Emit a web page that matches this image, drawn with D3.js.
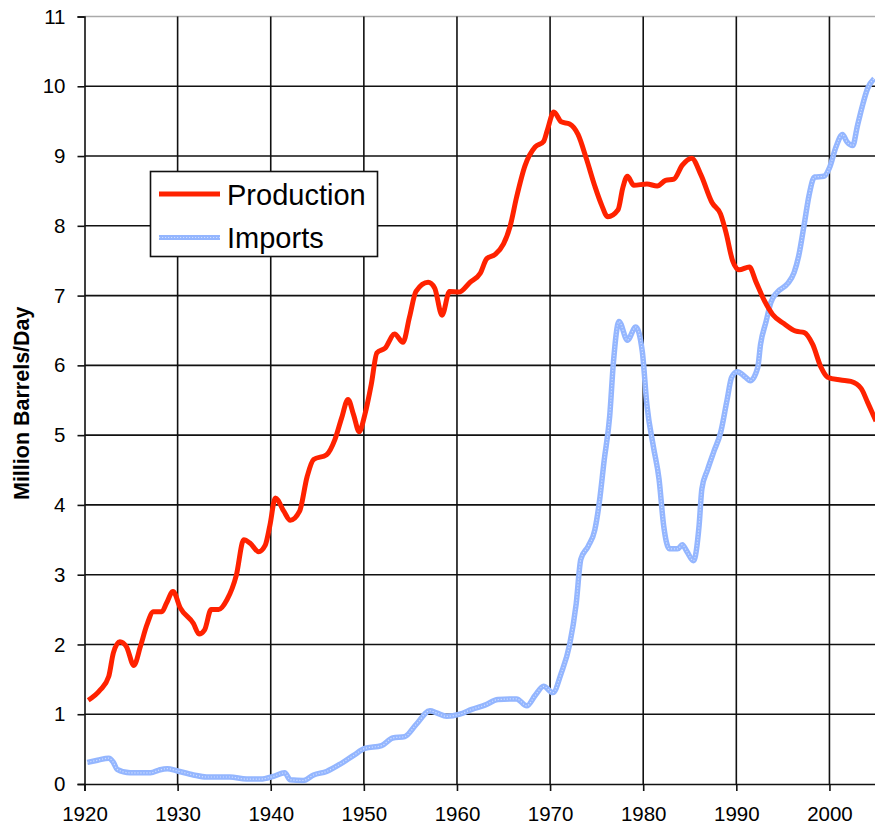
<!DOCTYPE html>
<html>
<head>
<meta charset="utf-8">
<script src="https://cdn.jsdelivr.net/npm/d3@7"></script>
<style>
  html, body { margin: 0; padding: 0; background: #fff; }
  svg { display: block; }
  text { font-family: "Liberation Sans", Arial, sans-serif; fill: #000; }
</style>
</head>
<body>
<div id="chart"></div>
<script>
// ---- Data ----
const prodYears = [1920.4,1921.7,1922.6,1923.1,1923.8,1924.5,1925.3,1926.0,1926.7,1927.4,1928.3,1928.8,1929.5,1930.3,1931.7,1932.3,1932.9,1933.6,1934.4,1935.3,1936.3,1937.1,1937.8,1938.7,1939.4,1939.9,1940.5,1941.4,1942.1,1943.1,1943.9,1944.6,1946.0,1946.9,1947.6,1948.3,1948.9,1949.5,1950.1,1950.8,1951.4,1952.3,1953.3,1954.2,1954.9,1955.6,1956.9,1957.6,1958.4,1959.2,1960.2,1961.4,1962.5,1963.2,1964.1,1965.0,1965.7,1966.4,1967.3,1968.4,1969.3,1969.7,1970.4,1971.2,1972.1,1973.0,1973.9,1974.8,1975.5,1976.2,1977.3,1977.8,1978.3,1979.0,1980.4,1981.5,1982.4,1983.3,1984.2,1985.2,1986.2,1987.4,1988.3,1988.9,1989.6,1990.3,1991.4,1992.1,1993.0,1993.9,1995.1,1996.4,1997.3,1998.2,1999.1,1999.8,2001.2,2002.3,2003.4,2004.1,2005.0];
const prodValues = [1.20,1.35,1.54,1.88,2.04,1.97,1.70,1.97,2.28,2.47,2.47,2.59,2.76,2.52,2.30,2.15,2.21,2.50,2.50,2.64,2.99,3.50,3.45,3.33,3.42,3.70,4.10,3.91,3.78,3.91,4.40,4.65,4.72,4.94,5.24,5.51,5.29,5.05,5.29,5.73,6.18,6.25,6.45,6.33,6.69,7.06,7.19,7.11,6.72,7.06,7.05,7.19,7.32,7.53,7.59,7.74,7.99,8.41,8.86,9.13,9.21,9.37,9.63,9.49,9.46,9.31,8.96,8.57,8.31,8.13,8.23,8.54,8.71,8.58,8.60,8.57,8.65,8.67,8.87,8.97,8.73,8.33,8.17,7.90,7.50,7.37,7.41,7.20,6.93,6.73,6.60,6.49,6.47,6.30,5.97,5.83,5.79,5.77,5.67,5.47,5.20];

const impYears = [1920.3,1921.4,1922.6,1923.1,1923.5,1924.9,1927.1,1928.0,1928.9,1929.9,1931.7,1933.1,1935.6,1937.4,1938.9,1940.3,1941.5,1942.1,1943.5,1944.6,1946.0,1947.4,1948.9,1950.1,1951.9,1953.1,1954.4,1955.6,1957.1,1957.8,1958.9,1960.3,1961.6,1963.0,1964.4,1966.4,1967.5,1968.4,1969.3,1970.3,1971.2,1972.1,1972.8,1973.3,1974.1,1974.8,1975.3,1975.8,1976.4,1976.8,1977.4,1978.3,1979.2,1979.9,1980.4,1981.1,1981.7,1982.2,1982.8,1983.7,1984.2,1984.7,1985.4,1986.0,1986.3,1986.9,1987.6,1988.3,1989.0,1989.5,1990.1,1991.0,1991.5,1992.3,1992.6,1993.2,1993.7,1994.4,1995.5,1996.2,1996.7,1997.3,1997.8,1998.4,1999.4,2000.0,2000.7,2001.4,2001.9,2002.5,2003.0,2003.5,2004.1,2004.8];
const impValues = [0.31,0.34,0.37,0.31,0.21,0.16,0.16,0.20,0.22,0.19,0.13,0.10,0.10,0.07,0.07,0.11,0.16,0.06,0.05,0.13,0.18,0.28,0.41,0.51,0.55,0.66,0.68,0.85,1.05,1.02,0.97,1.00,1.07,1.13,1.21,1.22,1.12,1.27,1.40,1.31,1.59,2.00,2.58,3.22,3.41,3.64,4.05,4.63,5.27,6.04,6.63,6.36,6.55,6.20,5.43,4.83,4.37,3.70,3.37,3.37,3.43,3.33,3.20,3.70,4.23,4.50,4.77,5.03,5.50,5.83,5.91,5.83,5.78,5.97,6.30,6.63,6.90,7.05,7.17,7.33,7.57,8.03,8.43,8.70,8.71,8.83,9.13,9.31,9.20,9.15,9.43,9.70,9.97,10.11];

const xTickLabels = [1920,1930,1940,1950,1960,1970,1980,1990,2000];
const yTickLabels = [0,1,2,3,4,5,6,7,8,9,10,11];
const seriesNames = ["Production","Imports"];
const seriesColors = ["#ff2200","#94b6ff"];
const yTitle = "Million Barrels/Day";

// ---- Layout ----
const W = 875, H = 831;
const svg = d3.select("#chart").append("svg").attr("width", W).attr("height", H);

const x = d3.scaleLinear().domain([1920, 2005]).range([84.5, 876]);
const y = d3.scaleLinear().domain([0, 11]).range([784, 16.5]);

const grid = svg.append("g");
grid.selectAll("line.h").data(yTickLabels.filter(d => d > 0)).enter().append("line")
  .attr("x1", x(1920)).attr("x2", W)
  .attr("y1", d => y(d)).attr("y2", d => y(d))
  .attr("stroke", d => d === 11 ? "#aaaaaa" : "#111")
  .attr("stroke-width", 1.6);
grid.selectAll("line.v").data(xTickLabels.filter(d => d > 1920)).enter().append("line")
  .attr("x1", d => x(d)).attr("x2", d => x(d))
  .attr("y1", y(11)).attr("y2", y(0))
  .attr("stroke", "#111").attr("stroke-width", 1.6);

// axes
const yAxis = d3.axisLeft(y).tickValues(yTickLabels).tickSize(7).tickPadding(12).tickFormat(d3.format("d"));
const gy = svg.append("g").attr("transform", `translate(${x(1920)},0)`).call(yAxis)
  .attr("font-size", 20.5).attr("font-family", "Liberation Sans, Arial, sans-serif");
gy.select(".domain").attr("stroke", "#111").attr("stroke-width", 1.6);
gy.selectAll(".tick line").attr("stroke", "#111").attr("stroke-width", 1.6);
gy.selectAll(".tick text").attr("font-size", 20.5).attr("fill", "#222");

const xAxis = d3.axisBottom(x).tickValues(xTickLabels).tickSize(7).tickPadding(15).tickFormat(d3.format("d"));
const gx = svg.append("g").attr("transform", `translate(0,${y(0)})`).call(xAxis)
  .attr("font-size", 20.5).attr("font-family", "Liberation Sans, Arial, sans-serif");
gx.select(".domain").attr("stroke", "#111").attr("stroke-width", 1.6);
gx.selectAll(".tick line").attr("stroke", "#111").attr("stroke-width", 1.6);
gx.selectAll(".tick text").attr("font-size", 20.5).attr("fill", "#222");

// y title
svg.append("text")
  .attr("transform", `translate(28.5,${(y(0)+y(11))/2 + 3}) rotate(-90)`)
  .attr("text-anchor", "middle")
  .attr("font-size", 21.5).attr("font-weight", "bold")
  .text(yTitle);

// lines
const line = d3.line().x(d => x(d[0])).y(d => y(d[1])).curve(d3.curveMonotoneX);
const prodData = prodYears.map((d, i) => [d, prodValues[i]]);
const impData = impYears.map((d, i) => [d, impValues[i]]);

svg.append("clipPath").attr("id", "clip").append("rect")
  .attr("x", x(1920)).attr("y", 0).attr("width", W - x(1920)).attr("height", y(0));

const plot = svg.append("g").attr("clip-path", "url(#clip)");
plot.append("path").datum(impData).attr("d", line)
  .attr("fill", "none").attr("stroke", seriesColors[1]).attr("stroke-width", 5.5)
  .attr("stroke-linejoin", "round");
plot.append("path").datum(impData).attr("d", line)
  .attr("fill", "none").attr("stroke", "#ffffff").attr("stroke-width", 1.2)
  .attr("stroke-dasharray", "1.2,1.8").attr("opacity", 0.55);
plot.append("path").datum(prodData).attr("d", line)
  .attr("fill", "none").attr("stroke", seriesColors[0]).attr("stroke-width", 5)
  .attr("stroke-linejoin", "round");

// legend
const lg = svg.append("g");
lg.append("rect").attr("x", 150.5).attr("y", 171.5).attr("width", 227).attr("height", 85)
  .attr("fill", "#fff").attr("stroke", "#111").attr("stroke-width", 1.6);
const legendRows = [194, 237.5];
seriesNames.forEach((name, i) => {
  lg.append("line").attr("x1", 159).attr("x2", 220).attr("y1", legendRows[i]).attr("y2", legendRows[i])
    .attr("stroke", seriesColors[i]).attr("stroke-width", 5);
  if (i === 1) {
    lg.append("line").attr("x1", 159).attr("x2", 220).attr("y1", legendRows[i]).attr("y2", legendRows[i])
      .attr("stroke", "#fff").attr("stroke-width", 1.2).attr("stroke-dasharray", "1.2,1.8").attr("opacity", 0.55);
  }
  lg.append("text").attr("x", 227).attr("y", legendRows[i] + 10.5)
    .attr("font-size", 29).text(name);
});
</script>
</body>
</html>
